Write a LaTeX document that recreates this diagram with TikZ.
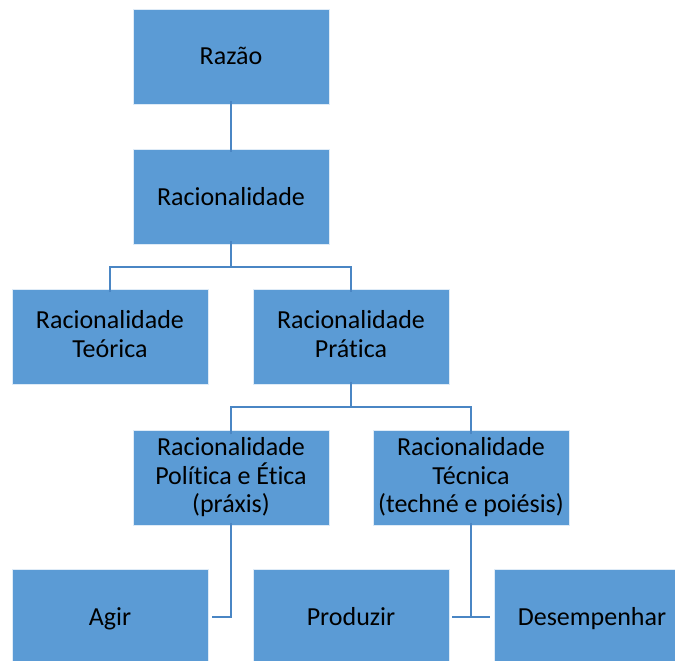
\documentclass[tikz,border=0pt]{standalone}
\usepackage{fontspec}
\setmainfont{Carlito}[Ligatures={NoCommon}]
\definecolor{boxblue}{HTML}{5B9BD5}
\definecolor{linkblue}{HTML}{4A86C4}
% invisible rules that give every label the same vertical extent
\newcommand\topstrut{\rule{0pt}{23bp}}
\newcommand\botstrut{\rule[-6bp]{0pt}{6bp}}
\begin{document}
\begin{tikzpicture}[x=1bp,y=-1bp,
  concept/.style={rectangle, fill=boxblue, draw=white!80!boxblue, line width=0.8bp,
    minimum width=196bp, minimum height=95bp, inner sep=2bp,
    align=center, text=black,
    font=\fontsize{26bp}{28.5bp}\selectfont,
    execute at begin node=\topstrut, execute at end node=\botstrut},
  link/.style={draw=linkblue, line width=2.5bp}]
\clip (0,0) rectangle (675,661);
\fill[white] (0,0) rectangle (675,661);

% concept boxes
\node[concept] (razao) at (231,56.5) {Razão};
\node[concept] (racio) at (231,196.5) {Racionalidade};
\node[concept] (teor)  at (110,337) {Racionalidade\\Teórica};
\node[concept] (prat)  at (351,337) {Racionalidade\\Prática};
\node[concept] (poli)  at (231,478) {Racionalidade\\Política e Ética\\(práxis)};
\node[concept] (tecn)  at (471,478) {Racionalidade\\Técnica\\(techné e poiésis)};
\node[concept] (agir)  at (110,616.5) {Agir};
\node[concept] (prod)  at (351,616.5) {Produzir};
\node[concept] (desem) at (592,616.5) {Desempenhar};

% junction points of the connectors
\coordinate (j1) at (231,267);
\coordinate (j2) at (351,407);
\coordinate (j3) at (231,617);
\coordinate (j4) at (471,617);

% connectors
\draw[link] ([yshift=3bp]razao.south) -- ([yshift=-3bp]racio.north);
\draw[link] ([yshift=3bp]racio.south) -- (j1);
\draw[link] ([yshift=-3bp]teor.north) -- (teor.north |- j1) -- (prat.north |- j1) -- ([yshift=-3bp]prat.north);
\draw[link] ([yshift=3bp]prat.south) -- (j2);
\draw[link] ([yshift=-4bp]poli.north) -- (poli.north |- j2) -- (tecn.north |- j2) -- ([yshift=-4bp]tecn.north);
\draw[link] ([yshift=3bp]poli.south) -- (j3) -- ([xshift=4bp]agir.east |- j3);
\draw[link] ([yshift=3bp]tecn.south) -- (j4);
\draw[link] ([xshift=3bp]prod.east |- j4) -- ([xshift=-4bp]desem.west |- j4);
\end{tikzpicture}
\end{document}
